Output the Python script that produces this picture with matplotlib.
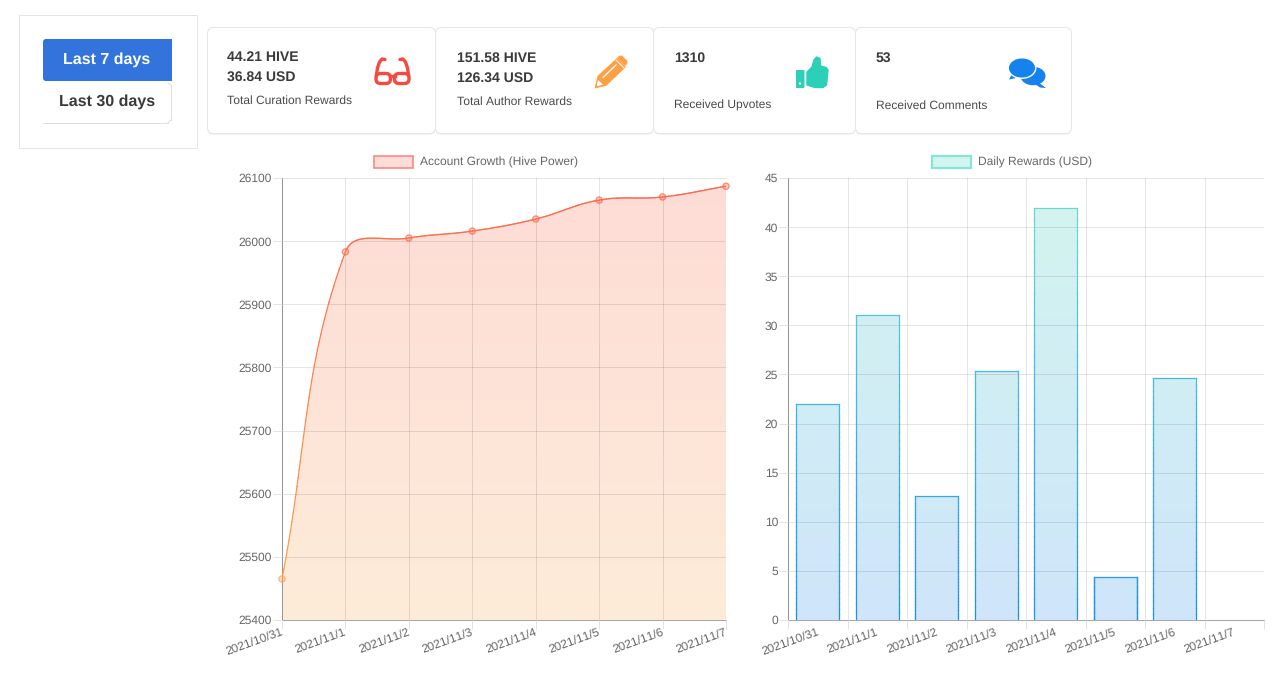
import numpy as np
import matplotlib
matplotlib.use('Agg')
import matplotlib.pyplot as plt
from matplotlib.collections import LineCollection
from matplotlib.colors import LinearSegmentedColormap, Normalize
from matplotlib.patches import Circle, Ellipse, FancyBboxPatch, Polygon, Rectangle

plt.rcParams['font.family'] = ['Liberation Sans', 'DejaVu Sans']
plt.rcParams['text.hinting'] = 'no_hinting'
plt.rcParams['text.hinting_factor'] = 1

W, H = 1282, 678

dates = ['2021/10/31', '2021/11/1', '2021/11/2', '2021/11/3',
         '2021/11/4', '2021/11/5', '2021/11/6', '2021/11/7']
hive_power = [25465, 25983, 26005, 26016, 26035, 26065, 26070, 26087]
daily_rewards = [22.0, 31.1, 12.6, 25.4, 41.9, 4.4, 24.6, 0]
hp_ticks = [25400, 25500, 25600, 25700, 25800, 25900, 26000, 26100]
usd_ticks = [0, 5, 10, 15, 20, 25, 30, 35, 40, 45]

# (x, lines, y of lines, caption, y of caption)
cards = [
    (227, ['44.21 HIVE', '36.84 USD'], [57, 77], 'Total Curation Rewards', 100.5),
    (457, ['151.58 HIVE', '126.34 USD'], [58, 78], 'Total Author Rewards', 101.5),
    (674.5, ['1310'], [58], 'Received Upvotes', 105.5),
    (876, ['53'], [58], 'Received Comments', 105.5),
]
card_boxes = [(207, 436), (435, 654), (653, 856), (855, 1072)]

GRID = '#e3e3e3'
TICK_TEXT = '#666666'
DARK = '#3a3a3a'

line_cmap = LinearSegmentedColormap.from_list('line', ['#ffa64d', '#ff6347'])
fill_cmap = LinearSegmentedColormap.from_list('fill', ['#feecd9', '#fddcd6'])
bar_cmap = LinearSegmentedColormap.from_list('bar', ['#cfe5fb', '#d3f5ee'])
edge_cmap = LinearSegmentedColormap.from_list('edge', ['#1e90f5', '#6fdcd2'])


def px_axes(fig, left, top, right, bottom):
    return fig.add_axes([left / W, 1 - bottom / H, (right - left) / W, (bottom - top) / H])


def grad_line(ax, xs, ys, cmap, norm, lw):
    pts = np.column_stack([xs, ys])
    segs = np.stack([pts[:-1], pts[1:]], axis=1)
    lc = LineCollection(segs, cmap=cmap, norm=norm, linewidths=lw, zorder=4, capstyle='projecting')
    lc.set_array((pts[:-1, 1] + pts[1:, 1]) / 2)
    ax.add_collection(lc)


def spline(x, y, sx, sy, tension=0.4, n=40):
    # same bezier as chart.js, control points are worked out in pixels
    px = np.array(x) * sx
    py = np.array(y) * sy
    cp1 = []
    cp2 = []
    for i in range(len(px)):
        a = max(i - 1, 0)
        b = min(i + 1, len(px) - 1)
        d01 = np.hypot(px[i] - px[a], py[i] - py[a])
        d12 = np.hypot(px[b] - px[i], py[b] - py[i])
        s = d01 / (d01 + d12)
        cp1.append((px[i] - tension * s * (px[b] - px[a]), py[i] - tension * s * (py[b] - py[a])))
        cp2.append((px[i] + tension * (1 - s) * (px[b] - px[a]), py[i] + tension * (1 - s) * (py[b] - py[a])))
    t = np.linspace(0, 1, n)[:, None]
    out = []
    for i in range(len(px) - 1):
        p0, p3 = np.array([px[i], py[i]]), np.array([px[i + 1], py[i + 1]])
        c1, c2 = np.array(cp2[i]), np.array(cp1[i + 1])
        out.append((1 - t) ** 3 * p0 + 3 * (1 - t) ** 2 * t * c1 + 3 * (1 - t) * t ** 2 * c2 + t ** 3 * p3)
    out = np.vstack(out)
    return out[:, 0] / sx, out[:, 1] / sy


def style_axes(ax):
    for side in ['top', 'right']:
        ax.spines[side].set_visible(False)
    for side in ['left', 'bottom']:
        ax.spines[side].set_color('#a8a8a8')
        ax.spines[side].set_linewidth(0.75)
    ax.grid(True, color='black', alpha=0.1, lw=0.72)
    ax.set_axisbelow(False)
    ax.tick_params(axis='both', length=6.5, width=0.72, color=GRID, labelcolor=TICK_TEXT, labelsize=8.64)
    ax.tick_params(axis='x', pad=-2.2)
    ax.tick_params(axis='y', pad=0.7)
    ax.patch.set_alpha(0)


fig = plt.figure(figsize=(W / 100, H / 100), dpi=100, facecolor='white')

# page layer, works in screen pixels
page = fig.add_axes([0, 0, 1, 1])
page.set_xlim(0, W)
page.set_ylim(H, 0)
page.axis('off')

# date range box
page.add_patch(Rectangle((19, 16), 178, 133, fc='#ededed', ec='none'))
page.add_patch(Rectangle((18.5, 14.5), 178, 133, fc='white', ec='#e4e4e4', lw=0.72))
page.add_patch(FancyBboxPatch((43, 39), 129, 42, boxstyle='round,pad=0,rounding_size=3', fc='#3273dc', ec='none'))
page.add_patch(Rectangle((100, 39), 72, 42, fc='#3273dc', ec='none'))
page.plot([43, 168], [122.5, 122.5], color='#dfdfdf', lw=0.72)
page.plot([168, 170.5], [82.5, 85], color='#dfdfdf', lw=0.72)
page.plot([170.5, 170.5], [85, 120], color='#dfdfdf', lw=0.72)
page.plot([170.5, 168], [120, 122.5], color='#dfdfdf', lw=0.72)
page.text(107, 60, 'Last 7 days', color='white', fontsize=11.5, fontweight='bold', ha='center', va='center')
page.text(107, 102, 'Last 30 days', color=DARK, fontsize=11.5, fontweight='bold', ha='center', va='center')

# stat cards
for left, right in card_boxes:
    page.add_patch(FancyBboxPatch((left + 0.5, 28.5), right - left - 1, 106, boxstyle='round,pad=0,rounding_size=6',
                                  fc='#e8e8e8', ec='none'))
    page.add_patch(FancyBboxPatch((left + 0.5, 27.5), right - left - 1, 106, boxstyle='round,pad=0,rounding_size=6',
                                  fc='white', ec='#e6e6e6', lw=0.72))
for x, lines, ys, caption, cy in cards:
    for line, y in zip(lines, ys):
        page.text(x, y, line, color=DARK, fontsize=10, fontweight='bold', va='center')
    page.text(x, cy, caption, color='#4a4a4a', fontsize=8.64, va='center')

# glasses
RED = '#f9493f'
for x0, x1 in [(376, 390.5), (394.5, 409)]:
    page.add_patch(FancyBboxPatch((x0, 73.5), x1 - x0, 10, boxstyle='round,pad=0,rounding_size=4.5', fc='none',
                                  ec=RED, lw=2.4))
page.plot([390, 395], [75.5, 75.5], color=RED, lw=2.4)
page.plot([376.3, 377.5, 379.5, 382, 385], [76, 68, 62, 59, 59.5], color=RED, lw=2.4, solid_capstyle='round')
page.plot([408.7, 407.5, 405.5, 403, 400], [76, 68, 62, 59, 59.5], color=RED, lw=2.4, solid_capstyle='round')

# pencil
ORANGE = '#ff9f43'
page.add_patch(Polygon([(595, 88), (598, 76), (617, 58.5), (625.5, 67), (606, 85.5)], fc=ORANGE, ec=ORANGE, lw=0.5,
                       joinstyle='round'))
page.add_patch(Polygon([(619.5, 56), (622, 56), (627, 61), (627, 63.5), (625, 65.5), (617.5, 58)], fc=ORANGE,
                       ec=ORANGE, lw=0.5))
page.plot([616, 625], [60, 69], color='white', lw=0.7)
page.plot([603, 616], [77.5, 65], color='white', lw=0.9)
page.add_patch(Polygon([(596.5, 86.5), (598, 80), (603, 84.5)], fc='white', ec='none'))
page.add_patch(Polygon([(595, 88), (596, 84.5), (598.5, 87)], fc=ORANGE, ec='none'))

# thumbs up
TEAL = '#2bd0b7'
page.add_patch(FancyBboxPatch((796, 70), 8.5, 18, boxstyle='round,pad=0,rounding_size=1', fc=TEAL, ec='none'))
page.add_patch(Circle((800, 83.5), 1.2, fc='white', ec='none'))
page.add_patch(Polygon([(807, 72), (812, 67), (814, 60), (816.5, 57), (820, 58.5), (820.5, 66), (826, 67.5),
                        (828, 70), (826.5, 85), (823, 87.5), (815, 87.5), (807, 85)], fc=TEAL, ec=TEAL, lw=1,
                       joinstyle='round'))

# comment bubbles
BLUE = '#1582ee'
page.add_patch(Ellipse((1033, 76), 25, 18.5, fc=BLUE, ec='none'))
page.add_patch(Polygon([(1038, 82), (1046, 88), (1040, 87.5), (1035, 84)], fc=BLUE, ec='none'))
page.add_patch(Polygon([(1013, 72), (1009, 79.5), (1016, 78), (1020, 75)], fc=BLUE, ec='none'))
page.add_patch(Ellipse((1022, 68), 27.5, 20.5, fc=BLUE, ec='white', lw=1))

# legends
page.add_patch(Rectangle((374, 156), 39, 12, fc='#ffdcd8', ec='#f98a80', lw=1.2))
page.text(420, 162, 'Account Growth (Hive Power)', color=TICK_TEXT, fontsize=8.64, va='center')
page.add_patch(Rectangle((932, 156), 39, 12, fc='#d3f5ef', ec='#88e3d8', lw=1.6))
page.text(977.5, 162, 'Daily Rewards (USD)', color=TICK_TEXT, fontsize=8.64, va='center')

# line chart
ax = px_axes(fig, 282, 178, 726, 620)
pos = np.arange(len(dates))
ax.set_xlim(0, len(dates) - 1)
ax.set_ylim(hp_ticks[0], hp_ticks[-1])
cx, cy = spline(pos, hive_power, 444 / 7, 442 / 700)
norm = Normalize(hp_ticks[0], hp_ticks[-1])
grad = np.linspace(0, 1, 256)[:, None]
img = ax.imshow(grad, origin='lower', cmap=fill_cmap, aspect='auto',
                extent=[0, len(dates) - 1, hp_ticks[0], hp_ticks[-1]], zorder=1)
clip = Polygon(np.vstack([np.column_stack([cx, cy]), [pos[-1], hp_ticks[0]], [0, hp_ticks[0]]]),
               transform=ax.transData, fc='none', ec='none')
ax.add_patch(clip)
img.set_clip_path(clip)
grad_line(ax, cx, cy, line_cmap, norm, 0.85)
ax.scatter(pos, hive_power, s=20, c=hive_power, cmap=line_cmap, norm=norm, zorder=5, clip_on=False,
           alpha=0.3, linewidths=0)
ax.scatter(pos, hive_power, s=20, facecolors='none', edgecolors=line_cmap(norm(hive_power)), zorder=5,
           clip_on=False, linewidths=0.9, alpha=0.75)
ax.set_xticks(pos)
ax.set_xticklabels(dates, rotation=20, ha='right', rotation_mode='anchor')
ax.set_yticks(hp_ticks)
style_axes(ax)
nudge = matplotlib.transforms.ScaledTranslation(-1.5 / 100, 0, fig.dpi_scale_trans)
for lab in ax.get_xticklabels():
    lab.set_transform(lab.get_transform() + nudge)

# bar chart
ax2 = px_axes(fig, 788, 178, 1264, 620)
ax2.set_xlim(0, len(dates))
ax2.set_ylim(usd_ticks[0], usd_ticks[-1])
centers = pos + 0.5
bar_w = 0.72
norm2 = Normalize(usd_ticks[0], usd_ticks[-1])
bars = ax2.bar(centers, daily_rewards, width=bar_w, color='none', edgecolor='none', zorder=2)
for bar, val in zip(bars, daily_rewards):
    if val <= 0:
        continue
    x0, x1 = bar.get_x(), bar.get_x() + bar.get_width()
    im = ax2.imshow(grad, origin='lower', cmap=bar_cmap, aspect='auto',
                    extent=[0, len(dates), usd_ticks[0], usd_ticks[-1]], zorder=1)
    im.set_clip_path(Rectangle((x0, 0), x1 - x0, val, transform=ax2.transData))
    ys = np.linspace(0, val, 40)
    grad_line(ax2, np.full_like(ys, x0), ys, edge_cmap, norm2, 0.9)
    grad_line(ax2, np.full_like(ys, x1), ys, edge_cmap, norm2, 0.9)
    grad_line(ax2, np.array([x0, x1]), np.array([val, val]), edge_cmap, norm2, 0.9)
ax2.set_xlim(0, len(dates))
ax2.set_ylim(usd_ticks[0], usd_ticks[-1])
ax2.set_xticks(pos)
ax2.set_xticks([len(dates)], minor=True)
ax2.tick_params(axis='x', which='minor', length=6.5, width=0.72, color=GRID)
ax2.set_xticklabels(dates, rotation=20, ha='right', rotation_mode='anchor')
ax2.set_yticks(usd_ticks)
style_axes(ax2)
ax2.grid(True, which='minor', axis='x', color='black', alpha=0.1, lw=0.72)
# labels sit under the bar, their right end at the band centre
offset = matplotlib.transforms.ScaledTranslation(28.5 / 100, 0, fig.dpi_scale_trans)
for lab in ax2.get_xticklabels():
    lab.set_transform(lab.get_transform() + offset)

fig.savefig('out.png', dpi=100, facecolor='white')
